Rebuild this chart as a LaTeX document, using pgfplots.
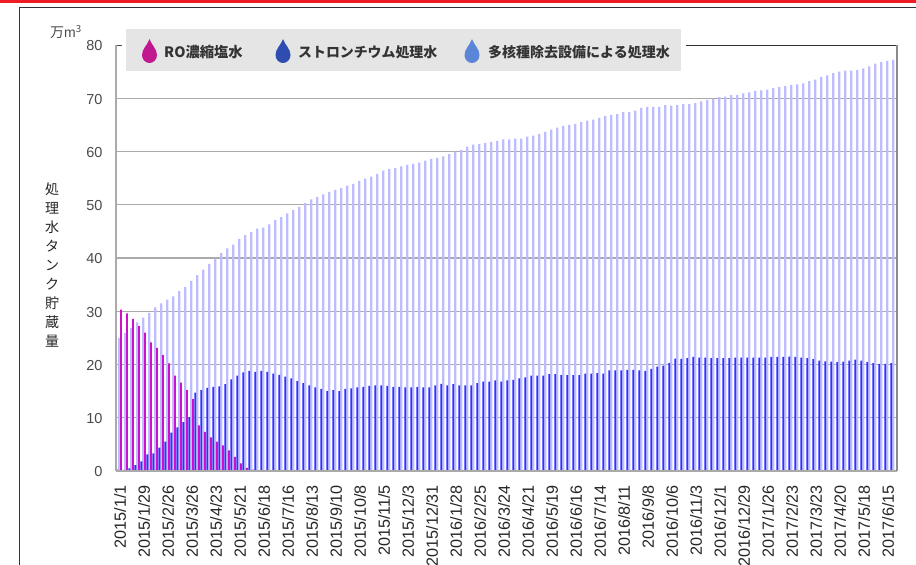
\documentclass[border=0pt]{standalone}
\usepackage{pgfplots}
\usepackage{pgfplotstable}
\pgfplotsset{compat=1.18}
\usepackage{fontspec}
\setmainfont{Liberation Sans}
\newfontfamily\cjk{Noto Sans CJK JP}
\newfontfamily\lib{Liberation Sans}
\definecolor{lightbar}{HTML}{BCBCFF}
\definecolor{bluebar}{HTML}{3030FF}
\definecolor{magbar}{HTML}{CC10CC}
\definecolor{gridg}{HTML}{AAAAAA}
\definecolor{txt}{HTML}{4A4A4A}
\definecolor{topred}{RGB}{238,28,37}
\definecolor{legbg}{RGB}{229,229,229}
\definecolor{dropa}{RGB}{192,24,143}
\definecolor{dropb}{RGB}{47,76,176}
\definecolor{dropc}{RGB}{91,134,216}
\pgfplotstableread{
n l b m
0 25 0.25 30.3
1 25.9 0.2 29.6
2 26.9 0.5 28.55
3 27.9 1.1 27.2
4 28.8 1.8 26
5 29.7 3.1 24.15
6 30.75 3.3 23.1
7 31.5 4.4 21.8
8 32.2 5.5 20.2
9 32.8 7.2 17.9
10 33.8 8.2 16.6
11 34.6 9.2 15.2
12 35.7 10.1 13.5
13 36.8 14.7 8.55
14 37.8 15.2 7.35
15 38.9 15.6 6.3
16 39.9 15.8 5.5
17 40.9 15.9 4.8
18 41.8 16.3 3.85
19 42.5 17.2 2.65
20 43.6 17.9 1.45
21 44.3 18.5 0.6
22 44.9 18.8 0.25
23 45.5 18.6 0.1
24 45.7 18.8 0.1
25 46.3 18.6 0.1
26 47.1 18.3 0.1
27 47.7 18.05 0.1
28 48.4 17.7 0.1
29 49 17.4 0.1
30 49.6 16.9 0.1
31 50.3 16.5 0.1
32 51 16.1 0.1
33 51.5 15.7 0.1
34 51.95 15.4 0.1
35 52.4 15 0.1
36 52.8 15.2 0.1
37 53.1 15 0.1
38 53.6 15.4 0.1
39 53.9 15.5 0.1
40 54.5 15.7 0.1
41 54.9 15.8 0.1
42 55.3 16 0.1
43 55.8 16.1 0.1
44 56.4 16.1 0.1
45 56.7 16 0.1
46 56.9 15.8 0.1
47 57.2 15.8 0.1
48 57.5 15.7 0.1
49 57.7 15.7 0.1
50 57.9 15.8 0.1
51 58.3 15.7 0.1
52 58.6 15.7 0.1
53 58.8 16.1 0.1
54 59.1 16.35 0.1
55 59.5 16.1 0.1
56 60 16.3 0.1
57 60.3 16.1 0.1
58 60.9 16.1 0.1
59 61.3 16.1 0.1
60 61.4 16.5 0.1
61 61.6 16.8 0.1
62 61.8 16.8 0.1
63 62 17 0.1
64 62.3 16.8 0.1
65 62.3 17 0.1
66 62.4 17.1 0.1
67 62.4 17.4 0.1
68 62.8 17.6 0.1
69 63 17.9 0.1
70 63.3 17.9 0.1
71 63.7 17.9 0.1
72 64.1 18.2 0.1
73 64.5 18.2 0.1
74 64.8 18 0.1
75 65 18 0.1
76 65.2 18 0.1
77 65.5 18 0.1
78 65.8 18.3 0.1
79 66 18.3 0.1
80 66.3 18.4 0.1
81 66.7 18.3 0.1
82 66.9 18.9 0.1
83 67 18.9 0.1
84 67.4 18.9 0.1
85 67.4 19 0.1
86 67.7 19 0.1
87 68.2 18.9 0.1
88 68.4 18.8 0.1
89 68.4 19.2 0.1
90 68.4 19.6 0.1
91 68.7 19.8 0.1
92 68.6 20.3 0.1
93 68.7 21.1 0.1
94 68.9 21.05 0.1
95 68.9 21.2 0.1
96 69.1 21.45 0.1
97 69.4 21.3 0.1
98 69.7 21.3 0.1
99 69.9 21.2 0.1
100 70.2 21.2 0.1
101 70.3 21.2 0.1
102 70.6 21.2 0.1
103 70.6 21.3 0.1
104 70.9 21.3 0.1
105 71.1 21.3 0.1
106 71.4 21.3 0.1
107 71.5 21.3 0.1
108 71.6 21.3 0.1
109 71.9 21.45 0.1
110 72.1 21.45 0.1
111 72.3 21.45 0.1
112 72.5 21.5 0.1
113 72.6 21.45 0.1
114 72.8 21.3 0.1
115 73.2 21.2 0.1
116 73.5 21 0.1
117 74 20.75 0.1
118 74.3 20.6 0.1
119 74.7 20.55 0.1
120 75 20.45 0.1
121 75.2 20.55 0.1
122 75.2 20.75 0.1
123 75.3 20.9 0.1
124 75.6 20.75 0.1
125 76 20.45 0.1
126 76.5 20.25 0.1
127 76.8 20.1 0.1
128 77 20.1 0.1
129 77.2 20.25 0.1
}\datatable
\newcommand{\drop}[2]{%
  \begin{scope}[shift={(#1pt,514pt)}]
  \fill[#2] (0pt,12pt) .. controls (2pt,6pt) and (7.5pt,2pt) .. (7.5pt,-4pt)
    .. controls (7.5pt,-8.5pt) and (4pt,-12pt) .. (0pt,-12pt)
    .. controls (-4pt,-12pt) and (-7.5pt,-8.5pt) .. (-7.5pt,-4pt)
    .. controls (-7.5pt,2pt) and (-2pt,6pt) .. (0pt,12pt) -- cycle;
  \end{scope}}
\begin{document}
\begin{tikzpicture}[x=1pt,y=1pt]
\useasboundingbox (0,0) rectangle (916,565);
\fill[topred] (0,562) rectangle (916,565);
\draw[color=black!80,line width=0.9pt] (19.5,0) -- (19.5,557.5) -- (916,557.5);
\begin{axis}[
  at={(116pt,94pt)},anchor=south west,
  scale only axis,width=781pt,height=426pt,
  xmin=-0.55,xmax=129.62,ymin=0,ymax=80,
  axis line style={draw=none},
  ytick={0,10,...,80},
  major tick length=0pt,
  tick style={draw=none},
  xtick={0,4,...,128},
  xticklabels={2015/1/1,2015/1/29,2015/2/26,2015/3/26,2015/4/23,2015/5/21,2015/6/18,2015/7/16,2015/8/13,2015/9/10,2015/10/8,2015/11/5,2015/12/3,2015/12/31,2016/1/28,2016/2/25,2016/3/24,2016/4/21,2016/5/19,2016/6/16,2016/7/14,2016/8/11,2016/9/8,2016/10/6,2016/11/3,2016/12/1,2016/12/29,2017/1/26,2017/2/23,2017/3/23,2017/4/20,2017/5/18,2017/6/15},
  xticklabel style={rotate=90,anchor=east,font=\fontsize{16.2}{17}\selectfont,text=black!85,xshift=-10.5pt,yshift=-0.7pt},
  yticklabel style={font=\fontsize{14.5}{15}\selectfont,text=txt,xshift=-10pt,yshift=-1pt},
  /pgf/number format/assume math mode=true,
  clip=false,
]
\addplot[draw=gridg,line width=1.1pt,forget plot] coordinates {(-0.55,10) (129.62,10)};
\addplot[draw=gridg,line width=1.1pt,forget plot] coordinates {(-0.55,20) (129.62,20)};
\addplot[draw=gridg,line width=1.1pt,forget plot] coordinates {(-0.55,30) (129.62,30)};
\addplot[draw=gridg,line width=1.1pt,forget plot] coordinates {(-0.55,40) (129.62,40)};
\addplot[draw=gridg,line width=1.1pt,forget plot] coordinates {(-0.55,50) (129.62,50)};
\addplot[draw=gridg,line width=1.1pt,forget plot] coordinates {(-0.55,60) (129.62,60)};
\addplot[draw=gridg,line width=1.1pt,forget plot] coordinates {(-0.55,70) (129.62,70)};
\addplot[draw=black!80,line width=0.9pt,forget plot] coordinates {(94.45,80) (129.62,80)};
\addplot[draw=black!70,line width=0.9pt,forget plot] coordinates {(-0.55,80) (0.45,80)};
\addplot[ybar,bar shift=0pt,bar width=2.2pt,fill=lightbar,draw=none] table[x=n,y=l]{\datatable};
\addplot[ybar,bar shift=-2pt,bar width=1.9pt,fill=bluebar,draw=none] table[x=n,y=b]{\datatable};
\addplot[ybar,bar shift=1.6pt,bar width=1.8pt,fill=magbar,draw=none] table[x=n,y=m]{\datatable};
\addplot[draw=gridg,line width=1.1pt,forget plot] coordinates {(-0.55,0) (-0.55,80)};
\addplot[draw=gridg,line width=1.1pt,forget plot] coordinates {(-0.55,0) (129.62,0)};
\addplot[draw=black!45,line width=1.6pt,forget plot] coordinates {(129.62,0) (129.62,80)};
\end{axis}
\fill[legbg] (126,494) rectangle (681,536);
\drop{149.5}{dropa}
\drop{283}{dropb}
\drop{472}{dropc}
\node[anchor=west,inner sep=0pt,text=black!80,font=\cjk\bfseries\fontsize{14.3}{15}\selectfont] at (164,513) {RO濃縮塩水};
\node[anchor=west,inner sep=0pt,text=black!80,font=\cjk\bfseries\fontsize{13.9}{15}\selectfont] at (298,513) {ストロンチウム処理水};
\node[anchor=west,inner sep=0pt,text=black!80,font=\cjk\bfseries\fontsize{14}{15}\selectfont] at (488,513) {多核種除去設備による処理水};
\node[anchor=west,inner sep=0pt,text=txt,font=\cjk\fontsize{14}{15}\selectfont] at (50,533) {万{\lib m}\textsuperscript{3}};
\node[anchor=center,inner sep=0pt,align=center,text=black!85,font=\cjk\fontsize{14}{19}\selectfont] at (52,300) {処\\理\\水\\タ\\ン\\ク\\貯\\蔵\\量};
\end{tikzpicture}
\end{document}
